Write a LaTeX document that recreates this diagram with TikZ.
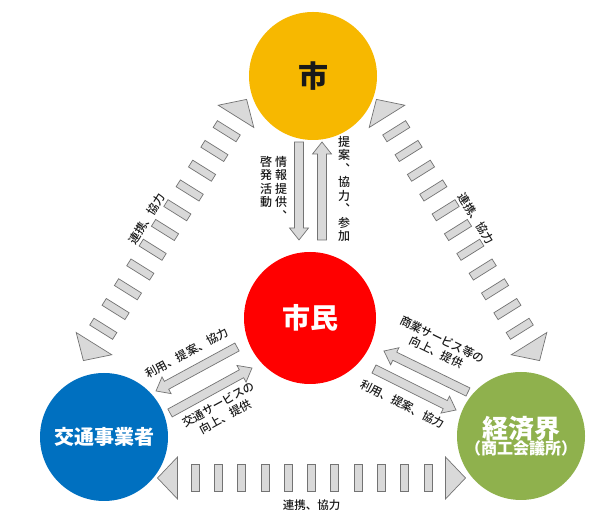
\documentclass[tikz,border=0pt]{standalone}
\usepackage{fontspec}
\usetikzlibrary{calc}
\newfontfamily\jp{Noto Sans CJK JP}
\newfontfamily\jpm{Noto Sans CJK JP Medium}
\definecolor{cYel}{RGB}{247,184,0}
\definecolor{cRed}{RGB}{255,0,0}
\definecolor{cBlue}{RGB}{0,112,192}
\definecolor{cGreen}{RGB}{143,177,77}
\definecolor{aFill}{RGB}{217,217,217}
\definecolor{aLine}{RGB}{115,115,115}
\tikzset{
  barrow/.style={fill=aFill, draw=aLine, line width=0.7pt, line join=miter},
  circ/.style={circle, minimum size=128pt, inner sep=0pt, align=center, font=\jp\bfseries, text=white},
  lbl/.style={font=\jpm\fontsize{11.5}{14}\selectfont, inner sep=0pt, align=center, text=black!90},
  vlbl/.style={font=\jpm\fontsize{12}{13.5}\selectfont, inner sep=0pt, align=center, anchor=north, text=black!90},
}
\newcommand\blockarrow[2]{%
  \coordinate (nk) at ($(#2)!12pt!(#1)$);
  \draw[barrow] ($(#1)!4.5pt!90:(#2)$) -- ($(nk)!4.5pt!-90:(#1)$) -- ($(nk)!9.5pt!-90:(#1)$) -- (#2)
    -- ($(nk)!9.5pt!90:(#1)$) -- ($(nk)!4.5pt!90:(#1)$) -- ($(#1)!4.5pt!-90:(#2)$) -- cycle;}
\newcommand\dashband[2]{%
  \begin{scope}[shift={#1}, rotate=#2]
    \draw[barrow] (134,21) -- (154,0) -- (134,-21) -- cycle;
    \draw[barrow] (-134,21) -- (-154,0) -- (-134,-21) -- cycle;
    \foreach \k in {-5,...,5} \draw[barrow] ({\k*23.3-4},-13.5) rectangle ({\k*23.3+4},13.5);
  \end{scope}}
\begin{document}
\begin{tikzpicture}[x=1pt,y=1pt]
\useasboundingbox[fill=white] (0,0) rectangle (605,511);

% circles
\node[circ, fill=cYel, minimum size=128pt, text=black!90, font=\jp\bfseries\fontsize{30}{34}\selectfont] (shi) at (313,435) {市};
\node[circ, fill=cRed, minimum size=132pt, font=\jp\bfseries\fontsize{28}{32}\selectfont] (shimin) at (310,193) {市民};
\node[circ, fill=cBlue, minimum size=128pt, font=\jp\bfseries\fontsize{20}{24}\selectfont] (kotsu) at (104,74) {交通事業者};
\node[circ, fill=cGreen, minimum size=128pt] (keizai) at (521,75)
  {{\fontsize{26}{30}\selectfont 経済界}\\[-2pt]{\fontsize{16}{20}\selectfont （商工会議所）}};

% dashed broad arrows
\dashband{(165,281)}{58}
\dashband{(458,281)}{-58}
\dashband{(311.5,33)}{0}
\node[lbl, rotate=58] (l1) at (147,292) {連携、協力};
\node[lbl, rotate=-58] (l2) at (476.5,292.5) {連携、協力};
\node[lbl] (l3) at (311.5,6) {連携、協力};

% vertical arrows
\coordinate (dA1) at (299,369); \coordinate (dA2) at (299,271);
\coordinate (uA1) at (322,271); \coordinate (uA2) at (322,369);
\blockarrow{dA1}{dA2}
\blockarrow{uA1}{uA2}
\node[vlbl] (v1) at (281,355) {情\\報\\提\\供\\︑};
\node[vlbl] (v2) at (266,355) {啓\\発\\活\\動};
\node[vlbl] (v3) at (344,375) {提\\案\\︑\\協\\力\\︑\\参\\加};

% left diagonal arrows
\coordinate (lu1) at (237,164); \coordinate (lu2) at (156,120);
\coordinate (ll1) at (170,98);  \coordinate (ll2) at (252,143);
\blockarrow{lu1}{lu2}
\blockarrow{ll1}{ll2}
\node[lbl, rotate=28.5] (t1) at (187,158) {利用、提案、協力};
\node[lbl, rotate=28.7] (t2) at (222,100.5) {交通サービスの\\向上、提供};

% right diagonal arrows
\coordinate (ru1) at (468,119); \coordinate (ru2) at (384,160);
\coordinate (rl1) at (374,142); \coordinate (rl2) at (456,101);
\blockarrow{ru1}{ru2}
\blockarrow{rl1}{rl2}
\node[lbl, rotate=-26] (t3) at (439.5,165) {商業サービス等の\\向上、提供};
\node[lbl, rotate=-26.5] (t4) at (402.5,107) {利用、提案、協力};
\end{tikzpicture}
\end{document}
